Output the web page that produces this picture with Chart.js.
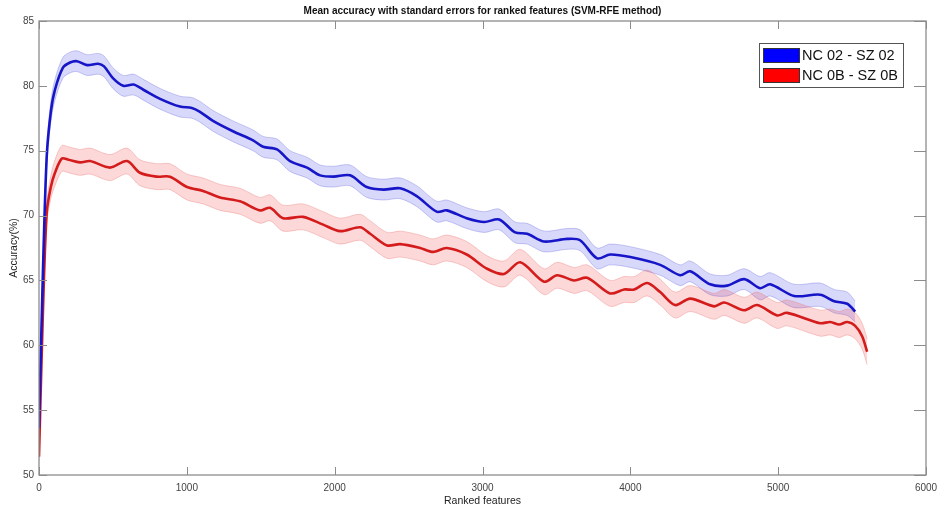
<!DOCTYPE html>
<html>
<head>
<meta charset="utf-8">
<script src="https://cdn.jsdelivr.net/npm/chart.js@4.4.1/dist/chart.umd.min.js"></script>
<style>
  html, body { margin: 0; padding: 0; background: #fff; }
  #wrap { width: 937px; height: 511px; position: relative; }
</style>
</head>
<body>
<div id="wrap"><canvas id="grafico" width="937" height="511"></canvas></div>
<script>
// Dados (número de features, acurácia média, erro padrão)
const titulo = "Mean accuracy with standard errors for ranked features (SVM-RFE method)";
const nomes = ["NC 02 - SZ 02", "NC 0B - SZ 0B"];

const azulX = [0, 25, 52, 80, 108, 162, 210, 257, 325, 400, 440, 500, 570, 640, 706, 819, 954, 1034, 1089, 1177, 1312, 1448, 1516, 1610, 1698, 1813, 1901, 1992, 2104, 2217, 2330, 2443, 2555, 2690, 2758, 2893, 3012, 3112, 3221, 3302, 3417, 3572, 3660, 3775, 3863, 4000, 4202, 4337, 4405, 4540, 4655, 4770, 4878, 4946, 5108, 5284, 5379, 5467, 5521];
const azulMedia = [53.6, 65.0, 74.5, 78.0, 79.7, 81.4, 81.8, 81.9, 81.6, 81.7, 81.5, 80.6, 80.0, 80.1, 79.7, 79.0, 78.4, 78.3, 78.0, 77.3, 76.5, 75.8, 75.3, 75.1, 74.2, 73.7, 73.1, 73.0, 73.1, 72.2, 72.0, 72.1, 71.5, 70.3, 70.4, 69.8, 69.5, 69.7, 68.7, 68.6, 68.0, 68.2, 68.1, 66.7, 67.0, 66.8, 66.2, 65.4, 65.7, 64.7, 64.6, 65.1, 64.4, 64.7, 63.8, 63.9, 63.4, 63.2, 62.6];
const azulErro = [0.3, 0.5, 0.7, 0.8, 0.8, 0.8, 0.8, 0.8, 0.8, 0.8, 0.8, 0.8, 0.8, 0.8, 0.8, 0.8, 0.8, 0.8, 0.8, 0.8, 0.8, 0.8, 0.8, 0.8, 0.8, 0.8, 0.8, 0.8, 0.8, 0.8, 0.8, 0.8, 0.8, 0.8, 0.8, 0.8, 0.8, 0.8, 0.8, 0.8, 0.8, 0.8, 0.8, 0.8, 0.8, 0.8, 0.8, 0.8, 0.8, 0.8, 0.8, 0.8, 0.9, 0.9, 0.9, 0.9, 0.9, 0.9, 0.8];

const vermX = [0, 25, 52, 80, 108, 155, 200, 277, 345, 480, 595, 683, 798, 886, 1001, 1110, 1225, 1360, 1495, 1563, 1651, 1786, 1922, 2037, 2172, 2240, 2355, 2443, 2578, 2666, 2758, 2893, 3031, 3146, 3255, 3417, 3505, 3620, 3708, 3863, 3958, 4026, 4114, 4202, 4303, 4405, 4567, 4635, 4770, 4858, 4993, 5061, 5284, 5352, 5413, 5467, 5521, 5568, 5602];
const vermMedia = [51.4, 62.0, 70.2, 72.2, 73.3, 74.4, 74.3, 74.1, 74.2, 73.7, 74.2, 73.3, 73.0, 73.0, 72.2, 71.9, 71.4, 71.1, 70.4, 70.6, 69.8, 69.9, 69.3, 68.8, 69.1, 68.6, 67.7, 67.8, 67.5, 67.2, 67.5, 67.0, 65.9, 65.5, 66.4, 64.9, 65.4, 65.0, 65.2, 64.0, 64.3, 64.3, 64.8, 64.1, 63.1, 63.6, 63.0, 63.3, 62.7, 63.1, 62.3, 62.5, 61.7, 61.8, 61.6, 61.8, 61.5, 60.7, 59.5];
const vermErro = [0.3, 0.6, 0.8, 0.9, 1.0, 1.0, 1.0, 1.0, 1.0, 1.0, 1.0, 1.0, 1.0, 1.0, 1.0, 1.0, 1.0, 1.0, 1.0, 1.0, 1.0, 1.0, 1.0, 1.0, 1.0, 1.0, 1.0, 1.0, 1.0, 1.0, 1.0, 1.0, 1.0, 1.0, 1.0, 1.0, 1.0, 1.0, 1.0, 1.0, 1.0, 1.0, 1.0, 1.0, 1.0, 1.0, 1.0, 1.0, 1.0, 1.0, 1.0, 1.0, 1.0, 1.0, 1.0, 1.0, 1.0, 1.0, 1.0];

const ticksX = [0, 1000, 2000, 3000, 4000, 5000, 6000];
const ticksY = [50, 55, 60, 65, 70, 75, 80, 85];

// Monta os pontos {x, y}
function pontos(xs, ys, erro, sinal) {
    return xs.map((x, i) => ({ x: x, y: ys[i] + sinal * (erro ? erro[i] : 0) }));
}

const fonte = "'Liberation Sans', Arial, Helvetica, sans-serif";

// Plugin: caixa do eixo com ticks para dentro (estilo MATLAB) e legenda
const caixaMatlab = {
    id: "caixaMatlab",
    afterDatasetsDraw(chart) {
        const ctx = chart.ctx;
        const a = chart.chartArea;
        const sx = chart.scales.x, sy = chart.scales.y;
        ctx.save();
        ctx.strokeStyle = "#8c8c8c";
        ctx.lineWidth = 1.3;
        ctx.strokeRect(a.left, a.top, a.right - a.left, a.bottom - a.top);
        ctx.lineWidth = 1;
        ctx.beginPath();
        ticksX.forEach(v => {
            let px = Math.round(sx.getPixelForValue(v)) + 0.5;
            ctx.moveTo(px, a.bottom); ctx.lineTo(px, a.bottom - 8);
            ctx.moveTo(px, a.top); ctx.lineTo(px, a.top + 8);
        });
        ticksY.forEach(v => {
            let py = Math.round(sy.getPixelForValue(v)) + 0.5;
            ctx.moveTo(a.left, py); ctx.lineTo(a.left + 8, py);
            ctx.moveTo(a.right, py); ctx.lineTo(a.right - 12, py);
        });
        ctx.stroke();

        // Legenda
        const lx = a.right - 167, ly = a.top + 22, lw = 144, lh = 44;
        ctx.fillStyle = "#fff";
        ctx.fillRect(lx, ly, lw, lh);
        ctx.strokeStyle = "#555";
        ctx.lineWidth = 1;
        ctx.strokeRect(lx + 0.5, ly + 0.5, lw, lh);
        const cores = ["#0000ff", "#ff0000"];
        ctx.font = "14.5px " + fonte;
        ctx.textBaseline = "middle";
        nomes.forEach((n, i) => {
            const yy = ly + 5 + i * 20;
            ctx.fillStyle = cores[i];
            ctx.fillRect(lx + 4, yy, 36, 14);
            ctx.strokeStyle = "#333";
            ctx.strokeRect(lx + 4.5, yy + 0.5, 36, 14);
            ctx.fillStyle = "#111";
            ctx.fillText(n, lx + 43, yy + 8);
        });
        ctx.restore();
    }
};

const ctx = document.getElementById("grafico").getContext("2d");
window.myChart = new Chart(ctx, {
    type: "line",
    data: {
        datasets: [
            { // linhas principais
                label: nomes[0],
                data: pontos(azulX, azulMedia, null, 0),
                borderColor: "#1616c8",
                borderWidth: 2.6,
                pointRadius: 0,
                tension: 0.3,
                fill: false,
                order: 0
            },
            {
                label: nomes[1],
                data: pontos(vermX, vermMedia, null, 0),
                borderColor: "#d41c1c",
                borderWidth: 2.6,
                pointRadius: 0,
                tension: 0.3,
                fill: false,
                order: 0
            },
            { // faixa de erro azul
                label: "azul+",
                data: pontos(azulX, azulMedia, azulErro, 1),
                borderColor: "rgba(110,110,220,0.35)",
                borderWidth: 1,
                backgroundColor: "rgba(60,60,235,0.2)",
                pointRadius: 0,
                tension: 0.3,
                fill: "+1",
                order: 2
            },
            {
                label: "azul-",
                data: pontos(azulX, azulMedia, azulErro, -1),
                borderColor: "rgba(110,110,220,0.35)",
                borderWidth: 1,
                pointRadius: 0,
                tension: 0.3,
                fill: false,
                order: 2
            },
            { // faixa de erro vermelha
                label: "verm+",
                data: pontos(vermX, vermMedia, vermErro, 1),
                borderColor: "rgba(235,120,120,0.35)",
                borderWidth: 1,
                backgroundColor: "rgba(240,60,60,0.2)",
                pointRadius: 0,
                tension: 0.3,
                fill: "+1",
                order: 1
            },
            {
                label: "verm-",
                data: pontos(vermX, vermMedia, vermErro, -1),
                borderColor: "rgba(235,120,120,0.35)",
                borderWidth: 1,
                pointRadius: 0,
                tension: 0.3,
                fill: false,
                order: 1
            }
        ]
    },
    options: {
        responsive: false,
        animation: false,
        layout: { padding: { top: 0, right: 11, left: 0, bottom: 0 } },
        plugins: {
            legend: { display: false },
            tooltip: { enabled: false },
            title: {
                display: true,
                fullSize: false,
                text: titulo,
                color: "#111",
                font: { family: fonte, size: 10, weight: "bold" },
                padding: { top: 5, bottom: 4 }
            }
        },
        scales: {
            x: {
                type: "linear",
                min: 0,
                max: 6000,
                afterBuildTicks: s => { s.ticks = ticksX.map(v => ({ value: v })); },
                afterFit: s => { s.height = 36; s.paddingLeft = 0; s.paddingRight = 0; },
                grid: { display: false, drawTicks: false },
                border: { display: false },
                ticks: { color: "#444", padding: 7, maxRotation: 0, callback: v => String(v), font: { family: fonte, size: 10 } },
                title: { display: true, text: "Ranked features", color: "#222", padding: { top: 0, bottom: 4 }, font: { family: fonte, size: 10.5 } }
            },
            y: {
                min: 50,
                max: 85,
                afterBuildTicks: s => { s.ticks = ticksY.map(v => ({ value: v })); },
                afterFit: s => { s.width = 39; s.paddingTop = 0; s.paddingBottom = 0; },
                grid: { display: false, drawTicks: false },
                border: { display: false },
                ticks: { color: "#444", padding: 5, callback: v => String(v), font: { family: fonte, size: 10 } },
                title: { display: true, text: "Accuracy(%)", color: "#222", padding: { top: 8, bottom: 0 }, font: { family: fonte, size: 10.5 } }
            }
        }
    },
    plugins: [caixaMatlab]
});
</script>
</body>
</html>
